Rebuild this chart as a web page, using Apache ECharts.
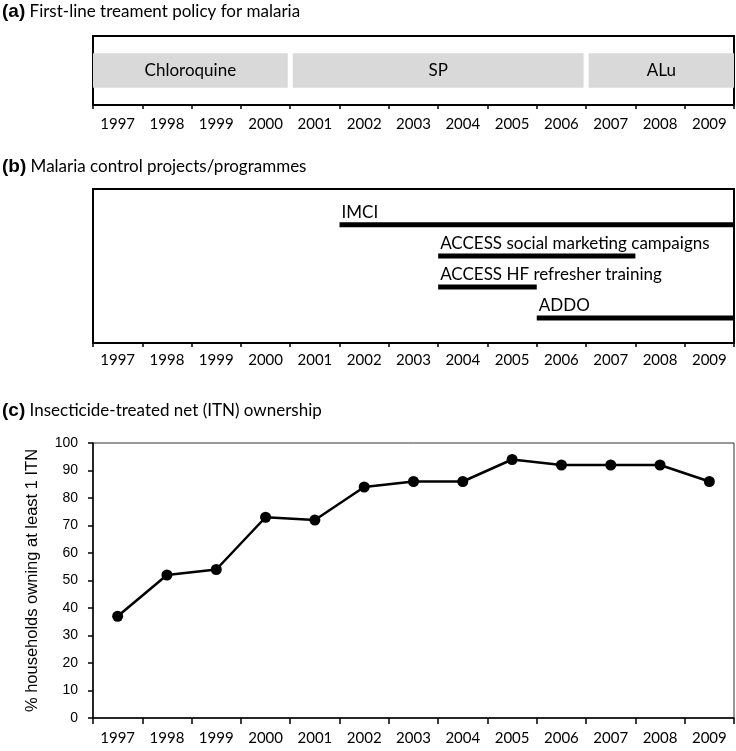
<!DOCTYPE html>
<html>
<head>
<meta charset="utf-8">
<script src="https://cdn.jsdelivr.net/npm/echarts@6/dist/echarts.min.js"></script>
<style>
html,body{margin:0;padding:0;background:#fff;}
#chart{width:736px;height:751px;}
</style>
</head>
<body>
<div id="chart"></div>
<script>
const years = ['1997','1998','1999','2000','2001','2002','2003','2004','2005','2006','2007','2008','2009'];

const policies = ['Chloroquine','SP','ALu'];
const policyStart = ['1997','2001','2007'];
const policyEnd = ['2000','2006','2009'];

const programmes = ['IMCI','ACCESS social marketing campaigns','ACCESS HF refresher training','ADDO'];
const progStart = ['2002','2004','2004','2006'];
const progEnd = ['2009','2007','2005','2009'];
const progRow = [4,3,2,1];

const itnOwnership = [37,52,54,73,72,84,86,86,94,92,92,92,86];

const calibri = 'Lato';
const arial = 'Liberation Sans';
const lastIdx = years.length - 1;

const chart = echarts.init(document.getElementById('chart'));

function titleCfg(letter, text, top) {
  return {
    text: '{b|(' + letter + ')} ' + text,
    left: 2, top: top, padding: 0,
    textStyle: {
      fontFamily: calibri, fontSize: 17, fontWeight: 'normal', color: '#000',
      rich: { b: { fontFamily: arial, fontWeight: 'bold', fontSize: 19, color: '#000' } }
    }
  };
}

function catAxis(gi, margin, tickLen) {
  return {
    type: 'category', gridIndex: gi, data: years, boundaryGap: true,
    axisLine: { show: true, lineStyle: { color: '#000', width: gi === 2 ? 1.5 : 2 } },
    axisTick: { show: true, length: tickLen, lineStyle: { color: '#000', width: 1.5 } },
    axisLabel: { margin: margin, fontFamily: calibri, fontSize: 15, color: '#000' },
    splitLine: { show: false }
  };
}

const policyData = policies.map((p, i) => [years.indexOf(policyStart[i]), years.indexOf(policyEnd[i]), i]);
const progData = programmes.map((p, i) => [years.indexOf(progStart[i]), years.indexOf(progEnd[i]), progRow[i], i]);

chart.setOption({
  backgroundColor: '#fff',
  animation: false,
  title: [
    titleCfg('a', 'First-line treament policy for malaria', 2),
    titleCfg('b', 'Malaria control projects/programmes', 157),
    titleCfg('c', 'Insecticide-treated net (ITN) ownership', 401)
  ],
  grid: [
    { left: 93, top: 36, width: 641, height: 69, show: true, borderColor: '#000', borderWidth: 2, backgroundColor: 'transparent' },
    { left: 93, top: 189, width: 641, height: 154, show: true, borderColor: '#000', borderWidth: 2, backgroundColor: 'transparent' },
    { left: 93, top: 443, width: 641, height: 275, show: true, borderColor: '#333', borderWidth: 1, backgroundColor: 'transparent' }
  ],
  xAxis: [catAxis(0, 12, 4), catAxis(1, 10, 4), catAxis(2, 13, 6)],
  yAxis: [
    { type: 'value', gridIndex: 0, min: 0, max: 1, show: false },
    { type: 'value', gridIndex: 1, min: 0.2, max: 5.15, show: false },
    {
      type: 'value', gridIndex: 2, min: 0, max: 100, interval: 10,
      axisLine: { show: true, lineStyle: { color: '#000', width: 1.5 } },
      axisTick: { show: true, length: 5, lineStyle: { color: '#000', width: 1.5 } },
      axisLabel: { margin: 15, fontFamily: arial, fontSize: 14, color: '#000' },
      splitLine: { show: false },
      name: '% households owning at least 1 ITN',
      nameLocation: 'middle', nameGap: 52,
      nameTextStyle: { fontFamily: arial, fontSize: 16.5, color: '#000' }
    }
  ],
  series: [
    {
      type: 'custom', xAxisIndex: 0, yAxisIndex: 0, data: policyData,
      renderItem: function (params, api) {
        const s = api.value(0), e = api.value(1), idx = api.value(2);
        const bw = api.size([1, 0])[0];
        const pt = api.coord([s, 0.75]);
        const pb = api.coord([e, 0.25]);
        const x0 = pt[0] - bw / 2 + (s > 0 ? 2.5 : 0);
        const x1 = pb[0] + bw / 2 - (e < lastIdx ? 2.5 : 0);
        return {
          type: 'group',
          children: [
            { type: 'rect', shape: { x: x0, y: pt[1], width: x1 - x0, height: pb[1] - pt[1] }, style: { fill: '#d9d9d9' } },
            { type: 'text', style: { text: policies[idx], x: (x0 + x1) / 2, y: (pt[1] + pb[1]) / 2, align: 'center', verticalAlign: 'middle', font: '17px ' + calibri, fill: '#000' } }
          ]
        };
      }
    },
    {
      type: 'custom', xAxisIndex: 1, yAxisIndex: 1, data: progData,
      renderItem: function (params, api) {
        const s = api.value(0), e = api.value(1), row = api.value(2), idx = api.value(3);
        const bw = api.size([1, 0])[0];
        const p0 = api.coord([s, row]);
        const p1 = api.coord([e, row]);
        const x0 = p0[0] - bw / 2;
        const x1 = p1[0] + bw / 2;
        return {
          type: 'group',
          children: [
            { type: 'rect', shape: { x: x0, y: p0[1] - 2.5, width: x1 - x0, height: 5 }, style: { fill: '#000' } },
            { type: 'text', style: { text: programmes[idx], x: x0 + 2, y: p0[1] - 4, align: 'left', verticalAlign: 'bottom', font: '17px ' + calibri, fill: '#000' } }
          ]
        };
      }
    },
    {
      type: 'line', xAxisIndex: 2, yAxisIndex: 2, data: itnOwnership,
      symbol: 'circle', symbolSize: 11,
      itemStyle: { color: '#000' },
      lineStyle: { color: '#000', width: 2.5 }
    }
  ]
});
</script>
</body>
</html>
